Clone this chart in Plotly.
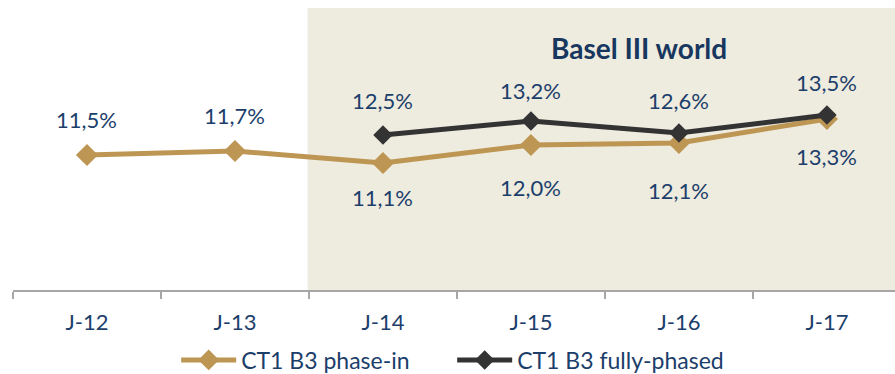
import plotly.graph_objects as go

categories = ["J-12", "J-13", "J-14", "J-15", "J-16", "J-17"]
phase_in = [11.5, 11.7, 11.1, 12.0, 12.1, 13.3]
phase_in_labels = ["11,5%", "11,7%", "11,1%", "12,0%", "12,1%", "13,3%"]
fully = [None, None, 12.5, 13.2, 12.6, 13.5]
fully_labels = ["", "", "12,5%", "13,2%", "12,6%", "13,5%"]

# label offsets (pixels) relative to points
phase_in_shift = [36, 36, -34, -42, -47, -37]
fully_shift = [0, 0, 35, 31, 33, 33]

TAN = "#BE9653"
DARK = "#333333"
TXT = "#1C3E6B"
FONT = "Lato"

fig = go.Figure()
fig.add_trace(go.Scatter(
    x=categories, y=phase_in, mode="lines+markers", name="CT1 B3 phase-in",
    line=dict(color=TAN, width=5), marker=dict(symbol="diamond", size=17, color=TAN)))
fig.add_trace(go.Scatter(
    x=categories, y=fully, mode="lines+markers", name="CT1 B3 fully-phased",
    line=dict(color=DARK, width=5), marker=dict(symbol="diamond", size=15, color=DARK)))

ann = []
for c, v, t, s in zip(categories, phase_in, phase_in_labels, phase_in_shift):
    ann.append(dict(x=c, y=v, text=t, showarrow=False, yshift=s,
                    font=dict(family=FONT, size=22, color=TXT)))
for c, v, t, s in zip(categories, fully, fully_labels, fully_shift):
    if v is None:
        continue
    ann.append(dict(x=c, y=v, text=t, showarrow=False, yshift=s,
                    font=dict(family=FONT, size=22, color=TXT)))
ann.append(dict(x=3.73, y=16.85, xref="x", yref="y", text="<b>Basel III world</b>", showarrow=False,
                font=dict(family=FONT, size=28, color="#17375E")))

fig.add_shape(type="rect", xref="x", yref="paper", x0=1.49, x1=6, y0=0, y1=1,
              fillcolor="#EEEBDF", line=dict(width=0), layer="below")

fig.update_layout(
    width=895, height=374, margin=dict(l=13, r=0, t=8, b=84, autoexpand=False),
    plot_bgcolor="white", paper_bgcolor="white",
    showlegend=True,
    legend=dict(orientation="h", x=0.185, xanchor="left", y=-0.248, yanchor="middle",
                font=dict(family=FONT, size=23, color=TXT), itemwidth=55,
                entrywidth=206, entrywidthmode="pixels", traceorder="normal"),
    annotations=ann,
    font=dict(family=FONT),
)
fig.update_xaxes(type="category", range=[-0.5, 5.46], showgrid=False, showline=True,
                 linecolor="#A6A6A6", linewidth=2, ticks="outside", tickson="boundaries",
                 ticklen=7, tickcolor="#A6A6A6", tickwidth=1.5, ticklabelstandoff=12,
                 automargin=False,
                 tickfont=dict(family=FONT, size=22, color=TXT))
fig.update_yaxes(range=[4.75, 18.85], visible=False, showgrid=False, automargin=False)

fig.write_html("out.html")
